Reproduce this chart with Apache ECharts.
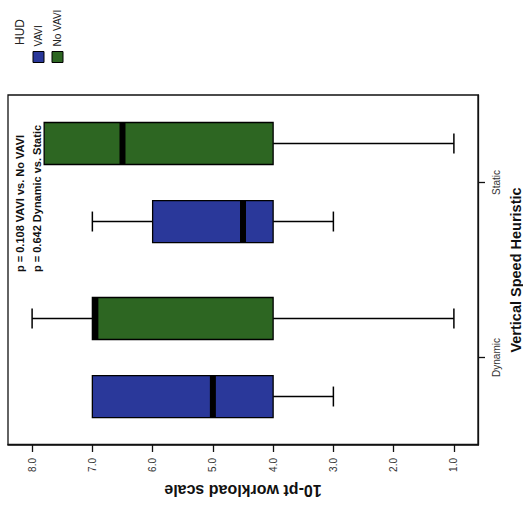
<!DOCTYPE html>
<html>
<head>
<meta charset="utf-8">
<script src="https://cdn.jsdelivr.net/npm/echarts@6/dist/echarts.min.js"></script>
<style>
  html, body { margin: 0; padding: 0; background: #fff; overflow: hidden; }
  body { width: 523px; height: 508px; position: relative; }
  /* The chart is laid out upright and then turned a quarter turn counter-clockwise. */
  #chart {
    position: absolute; left: 0; top: 0;
    width: 508px; height: 523px;
    transform-origin: 0 0;
    transform: translate(0px, 508px) rotate(-90deg);
  }
</style>
</head>
<body>
<div id="chart"></div>
<script>
// Workload ratings (10-point scale) by vertical speed heuristic and HUD condition.
const categories = ['Dynamic', 'Static'];
const groups = ['VAVI', 'No VAVI'];
// [lower whisker, Q1, median, Q3, upper whisker] per category
const vaviStats   = [[3, 4, 5, 7, 7], [3, 4, 4.5, 6, 7]];
const noVaviStats = [[1, 4, 6.95, 7, 8], [1, 4, 6.5, 7.8, 7.8]];
const tickValues = [1, 2, 3, 4, 5, 6, 7, 8];
const statNotes = ['p = 0.108 VAVI vs. No VAVI', 'p = 0.642 Dynamic vs. Static'];

const colors = { 'VAVI': '#2a389a', 'No VAVI': '#2d6622' };

function toRows(stats) {
  return categories.map((c, i) => [i].concat(stats[i]));
}

function boxRenderer(offsetFrac) {
  return function (params, api) {
    const cat = api.value(0);
    const lo = api.value(1), q1 = api.value(2), med = api.value(3), q3 = api.value(4), hi = api.value(5);
    const band = api.size([1, 0])[0];
    const cx = api.coord([cat, med])[0] + offsetFrac * band;
    const half = band * 0.12;
    const capHalf = band * 0.057;
    const y = v => api.coord([cat, v])[1];
    const line = { stroke: '#000', lineWidth: 1.5 };
    const kids = [];
    if (lo < q1) {
      kids.push({ type: 'line', shape: { x1: cx, y1: y(q1), x2: cx, y2: y(lo) }, style: line });
      kids.push({ type: 'line', shape: { x1: cx - capHalf, y1: y(lo), x2: cx + capHalf, y2: y(lo) }, style: line });
    }
    if (hi > q3) {
      kids.push({ type: 'line', shape: { x1: cx, y1: y(q3), x2: cx, y2: y(hi) }, style: line });
      kids.push({ type: 'line', shape: { x1: cx - capHalf, y1: y(hi), x2: cx + capHalf, y2: y(hi) }, style: line });
    }
    kids.push({
      type: 'rect',
      shape: { x: cx - half, y: y(q3), width: half * 2, height: y(q1) - y(q3) },
      style: { fill: api.visual('color'), stroke: '#000', lineWidth: 1.3 }
    });
    kids.push({
      type: 'rect',
      shape: { x: cx - half, y: y(med) - 3, width: half * 2, height: 6 },
      style: { fill: '#000' }
    });
    return { type: 'group', children: kids };
  };
}

const chart = echarts.init(document.getElementById('chart'), null, { renderer: 'svg' });

chart.setOption({
  animation: false,
  backgroundColor: '#fff',
  textStyle: { fontFamily: 'Liberation Sans, Arial, sans-serif' },
  grid: {
    left: 63, right: 95, top: 8, bottom: 45,
    outerBoundsMode: 'none',
    containLabel: false,
    show: true, borderColor: '#111', borderWidth: 1.3, backgroundColor: 'transparent'
  },
  legend: {
    orient: 'vertical',
    left: 440, top: 27,
    itemWidth: 11, itemHeight: 11, itemGap: 6,
    icon: 'rect',
    data: groups,
    itemStyle: { borderColor: '#000', borderWidth: 1 },
    textStyle: { fontSize: 10, color: '#222', lineHeight: 13 }
  },
  graphic: [
    { type: 'text', left: 463, top: 14, style: { text: 'HUD', fontSize: 12, fill: '#222', fontFamily: 'Liberation Sans, Arial' } },
    {
      type: 'text', left: 236, top: 11,
      style: {
        text: statNotes.join('\n'), fontSize: 11, fontWeight: 'bold', lineHeight: 17,
        fill: '#111', fontFamily: 'Liberation Sans, Arial'
      }
    }
  ],
  xAxis: {
    type: 'category',
    data: categories,
    axisLine: { show: true, lineStyle: { color: '#111', width: 1.3 } },
    axisTick: { show: true, alignWithLabel: true, length: 7, lineStyle: { color: '#111', width: 1.3 } },
    axisLabel: { fontSize: 10, color: '#333', margin: 13, fontFamily: 'Liberation Sans Narrow, Liberation Sans, Arial' },
    name: 'Vertical Speed Heuristic',
    nameLocation: 'middle',
    nameGap: 30,
    nameTextStyle: { fontSize: 14.5, fontWeight: 'bold', color: '#111' }
  },
  yAxis: {
    type: 'value',
    min: 0.6, max: 8.4,
    splitLine: { show: false },
    axisLine: { show: true, lineStyle: { color: '#111', width: 1.3 } },
    axisTick: { show: true, length: 7, customValues: tickValues, lineStyle: { color: '#111', width: 1.3 } },
    axisLabel: {
      customValues: tickValues, fontSize: 10, color: '#333', margin: 13,
      formatter: v => v.toFixed(1)
    },
    name: '10-pt workload scale',
    nameLocation: 'middle',
    nameGap: 33,
    nameTextStyle: { fontSize: 16, fontWeight: 'bold', color: '#111' }
  },
  series: [
    {
      name: 'VAVI', type: 'custom',
      itemStyle: { color: colors['VAVI'] },
      renderItem: boxRenderer(-0.223),
      encode: { x: 0, y: [1, 2, 3, 4, 5] },
      data: toRows(vaviStats)
    },
    {
      name: 'No VAVI', type: 'custom',
      itemStyle: { color: colors['No VAVI'] },
      renderItem: boxRenderer(0.223),
      encode: { x: 0, y: [1, 2, 3, 4, 5] },
      data: toRows(noVaviStats)
    }
  ]
});
</script>
</body>
</html>
